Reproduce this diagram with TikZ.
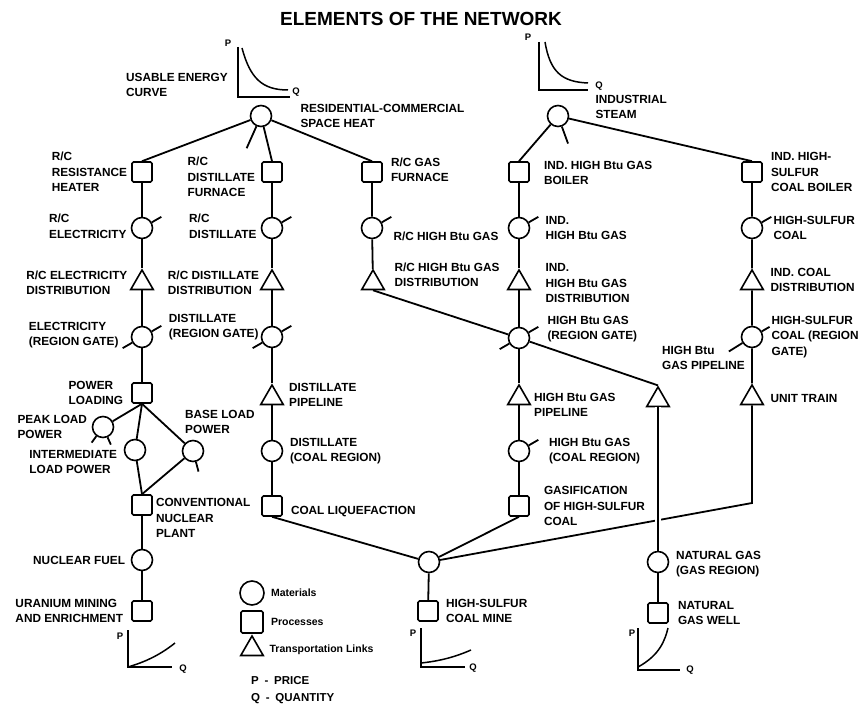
\documentclass[tikz,border=0pt]{standalone}
\usepackage{fontspec}
\setmainfont{Liberation Sans}
\usetikzlibrary{positioning,shapes.geometric}

\begin{document}
\begin{tikzpicture}[x=1pt, y=-1pt,
  mat/.style={draw, circle, line width=1.6pt, minimum size=21pt, inner sep=0pt},
  proc/.style={draw, rounded corners=1.5pt, line width=1.6pt, minimum size=20pt, inner sep=0pt},
  link/.style={draw, regular polygon, regular polygon sides=3, line width=1.6pt,
    minimum size=26pt, inner sep=0pt},
  lbl/.style={align=left, inner sep=0pt, font=\fontsize{11.8}{15.5}\selectfont\bfseries},
  axlbl/.style={inner sep=0pt, font=\fontsize{9.5}{10}\selectfont\bfseries},
  keylbl/.style={inner sep=0pt, font=\fontsize{10.5}{11}\selectfont\bfseries},
  conn/.style={line width=1.8pt},
  pq/.style={line width=1.5pt}]
  \path[fill=white] (0,0) rectangle (859,708);
  \useasboundingbox (0,0) rectangle (859,708);

  \node[inner sep=0pt, font=\fontsize{19}{20}\selectfont\bfseries] (title) at (421,19)
    {ELEMENTS OF THE NETWORK};

  \node[mat] (rsh) at (261,116) {};
  \node[mat] (ist) at (558,116) {};
  \node[proc] (rh) at (142,172) {};
  \node[proc] (rdf) at (272,172) {};
  \node[proc] (rgf) at (372,172) {};
  \node[proc] (ihb) at (519,172) {};
  \node[proc] (ihsb) at (752,172) {};
  \node[mat] (rce) at (142,228) {};
  \node[mat] (rcd) at (272,228) {};
  \node[mat] (rcg) at (372,228) {};
  \node[mat] (ihg) at (519,228) {};
  \node[mat] (hsc) at (752,228) {};
  \node[link] (rced) at (142,283) {};
  \node[link] (rcdd) at (272,283) {};
  \node[link] (rcgd) at (373,283) {};
  \node[link] (ihd) at (519,283) {};
  \node[link] (icd) at (752,283) {};
  \node[mat] (eg) at (142,337) {};
  \node[mat] (dg) at (272,337) {};
  \node[mat] (hg) at (519,338) {};
  \node[mat] (hscg) at (752,337) {};
  \node[proc] (pl) at (142,393) {};
  \node[link] (dp) at (272,398) {};
  \node[link] (hp) at (519,398) {};
  \node[link] (ngp) at (658,400) {};
  \node[link] (ut) at (752,398) {};
  \node[mat] (peak) at (103,427) {};
  \node[mat] (inter) at (135,450) {};
  \node[mat] (base) at (193,451) {};
  \node[mat] (dcr) at (272,451) {};
  \node[mat] (hcr) at (519,451) {};
  \node[proc] (cnp) at (142,505) {};
  \node[proc] (cl) at (272,506) {};
  \node[proc] (gas) at (519,506) {};
  \node[mat] (nf) at (142,560) {};
  \node[mat] (coal) at (429,562) {};
  \node[mat] (ng) at (658,562) {};
  \node[proc] (um) at (142,611) {};
  \node[proc] (hcm) at (428,611) {};
  \node[proc] (ngw) at (658,613) {};
  \coordinate (ubend) at (752,503);

  \node[lbl, anchor=east] (useL) at (228,85) {USABLE ENERGY\\CURVE};
  \node[lbl] (rshL) [right=28pt of rsh] {RESIDENTIAL-COMMERCIAL\\SPACE HEAT};
  \node[lbl] (istL) [right=26pt of ist, yshift=9pt] {INDUSTRIAL\\STEAM};
  \node[lbl] (rhL) [left=4pt of rh] {R/C\\RESISTANCE\\HEATER};
  \node[lbl] (rdfL) [left=6pt of rdf, yshift=-5pt] {R/C\\DISTILLATE\\FURNACE};
  \node[lbl] (rgfL) [right=8pt of rgf, yshift=2pt] {R/C GAS\\FURNACE};
  \node[lbl] (ihbL) [right=14pt of ihb, yshift=-1pt] {IND. HIGH Btu GAS\\BOILER};
  \node[lbl] (ihsbL) [right=8pt of ihsb] {IND. HIGH-\\SULFUR\\COAL BOILER};
  \node[lbl] (rceL) [left=4pt of rce, yshift=1.5pt] {R/C\\ELECTRICITY};
  \node[lbl] (rcdL) [left=4pt of rcd, yshift=1.5pt] {R/C\\DISTILLATE};
  \node[lbl] (rcgL) [right=10pt of rcg, yshift=-8pt] {R/C HIGH Btu GAS};
  \node[lbl] (ihgL) [right=15pt of ihg] {IND.\\HIGH Btu GAS};
  \node[lbl] (hscL) [right=10pt of hsc] {HIGH-SULFUR\\COAL};
  \node[lbl] (rcedL) [left=6pt of rced] {R/C ELECTRICITY\\DISTRIBUTION};
  \node[lbl] (rcddL) [left=4.5pt of rcdd] {R/C DISTILLATE\\DISTRIBUTION};
  \node[lbl] (rcgdL) [right=13pt of rcgd, yshift=8pt] {R/C HIGH Btu GAS\\DISTRIBUTION};
  \node[lbl] (ihdL) [right=18pt of ihd] {IND.\\HIGH Btu GAS\\DISTRIBUTION};
  \node[lbl] (icdL) [right=10pt of icd, yshift=3pt] {IND. COAL\\DISTRIBUTION};
  \node[lbl] (egL) [left=12pt of eg, yshift=2pt] {ELECTRICITY\\(REGION GATE)};
  \node[lbl] (dgL) [left=2pt of dg, yshift=10pt] {DISTILLATE\\(REGION GATE)};
  \node[lbl] (hgL) [right=17pt of hg, yshift=9pt] {HIGH Btu GAS\\(REGION GATE)};
  \node[lbl] (hscgL) [right=8pt of hscg] {HIGH-SULFUR\\COAL (REGION\\GATE)};
  \node[lbl, anchor=east] (hbpL) at ([xshift=-7pt, yshift=-21pt]hscg.center) {HIGH Btu\\GAS PIPELINE};
  \node[lbl] (plL) [left=8pt of pl] {POWER\\LOADING};
  \node[lbl] (peakL) [left=4.5pt of peak] {PEAK LOAD\\POWER};
  \node[lbl] (interL) [left=6.5pt of inter, yshift=-12pt] {INTERMEDIATE\\LOAD POWER};
  \node[lbl, anchor=west] (baseL) at ([xshift=-8pt, yshift=29pt]base.center) {BASE LOAD\\POWER};
  \node[lbl] (dpL) [right=8.5pt of dp, yshift=3pt] {DISTILLATE\\PIPELINE};
  \node[lbl] (hpL) [right=6.5pt of hp, yshift=-7pt] {HIGH Btu GAS\\PIPELINE};
  \node[lbl] (utL) [right=10pt of ut] {UNIT TRAIN};
  \node[lbl] (dcrL) [right=6.5pt of dcr] {DISTILLATE\\(COAL REGION)};
  \node[lbl] (hcrL) [right=18.5pt of hcr] {HIGH Btu GAS\\(COAL REGION)};
  \node[lbl] (cnpL) [right=3pt of cnp, yshift=-13pt] {CONVENTIONAL\\NUCLEAR\\PLANT};
  \node[lbl] (clL) [right=8pt of cl, yshift=-6pt] {COAL LIQUEFACTION};
  \node[lbl] (gasL) [right=14pt of gas] {GASIFICATION\\OF HIGH-SULFUR\\COAL};
  \node[lbl] (nfL) [left=5.5pt of nf] {NUCLEAR FUEL};
  \node[lbl] (ngL) [right=6.5pt of ng, yshift=-2pt] {NATURAL GAS\\(GAS REGION)};
  \node[lbl] (umL) [left=8pt of um] {URANIUM MINING\\AND ENRICHMENT};
  \node[lbl] (hcmL) [right=7pt of hcm] {HIGH-SULFUR\\COAL MINE};
  \node[lbl] (ngwL) [right=9pt of ngw] {NATURAL\\GAS WELL};

  \draw[conn] (rsh) -- (rh.north);
  \draw[conn] (rsh) -- (rdf.north);
  \draw[conn] (rsh) -- (rgf.north);
  \draw[conn] (ist) -- (ihb.north);
  \draw[conn] (ist) -- (ihsb.north);
  \draw[conn] (rh) -- (rce) -- (rced) -- (eg) -- (pl);
  \draw[conn] (pl.south) -- (peak);
  \draw[conn] (pl.south) -- (inter);
  \draw[conn] (pl.south) -- (base);
  \draw[conn] (inter) -- (cnp.north);
  \draw[conn] (base) -- (cnp.north);
  \draw[conn] (cnp) -- (nf) -- (um);
  \draw[conn] (rdf) -- (rcd) -- (rcdd) -- (dg) -- (dp) -- (dcr) -- (cl);
  \draw[conn] (cl.south) -- (coal);
  \draw[conn] (rgf) -- (rcg) -- (rcgd);
  \draw[conn] (rcgd.south) -- (hg);
  \draw[conn] (hg) -- (ngp.north);
  \draw[conn] (ihb) -- (ihg) -- (ihd) -- (hg) -- (hp) -- (hcr) -- (gas);
  \draw[conn] (gas.south) -- (coal);
  \draw[conn] (ihsb) -- (hsc) -- (icd) -- (hscg) -- (ut) -- (ubend) -- (coal);
  \draw[conn, preaction={draw, white, line width=6pt}] (ngp) -- (ng);
  \draw[conn] (ng) -- (ngw);
  \draw[conn] (coal) -- (hcm);

  \draw[conn] (rsh.246) -- ++(246:24pt);
  \draw[conn] (ist.290) -- ++(290:18pt);
  \foreach \n in {rce,rcd,rcg,ihg,hsc,hcr}
    \draw[conn] (\n.30) -- ++(30:11pt);
  \foreach \n in {eg,dg,hg}
    \draw[conn] (\n.30) -- ++(30:11pt) (\n.210) -- ++(210:11pt);
  \draw[conn] (hscg.30) -- ++(30:9pt) (hscg.212) -- ++(212:16pt);
  \draw[conn] (peak.234) -- ++(234:8pt) (peak.294) -- ++(294:8pt);
  \draw[conn] (base.285) -- ++(285:10pt);

  \draw[pq] (238,47) -- (238,97) -- (290,97);
  \draw[pq] (242,48) .. controls (250,78) and (262,90) .. (288,90);
  \node[axlbl] (pA) at (228,43) {P};
  \node[axlbl] (qA) at (296,92) {Q};
  \draw[pq] (539,42) -- (539,90) -- (588,90);
  \draw[pq] (545,42) .. controls (550,72) and (562,82) .. (588,83);
  \node[axlbl] (pB) at (528,37) {P};
  \node[axlbl] (qB) at (599,86) {Q};
  \draw[pq] (128,630) -- (128,667) -- (172,667);
  \draw[pq] (128,667) .. controls (145,662) and (160,655) .. (175,643);
  \node[axlbl] (pC) at (120,636) {P};
  \node[axlbl] (qC) at (183,669) {Q};
  \draw[pq] (421,628) -- (421,667) -- (465,667);
  \draw[pq] (421,663) .. controls (440,661) and (455,657) .. (471,650);
  \node[axlbl] (pD) at (413,633) {P};
  \node[axlbl] (qD) at (473,668) {Q};
  \draw[pq] (638,628) -- (638,670) -- (680,670);
  \draw[pq] (638,667) .. controls (660,655) and (665,640) .. (668,628);
  \node[axlbl] (pE) at (632,633) {P};
  \node[axlbl] (qE) at (690,670) {Q};

  \node[mat, minimum size=24pt] (lm) at (252,593) {};
  \node[proc, minimum size=22pt] (lp) at (252,622) {};
  \node[link, minimum size=26pt] (lt) at (252,649) {};
  \node[keylbl] (lmL) [right=6pt of lm] {Materials};
  \node[keylbl] (lpL) [right=7pt of lp] {Processes};
  \node[keylbl] (ltL) [right=9pt of lt, yshift=-1pt] {Transportation Links};
  \node[lbl, anchor=north west, font=\fontsize{11.5}{17}\selectfont\bfseries] (keyL) at (251,676)
    {P\enskip -\enskip PRICE\\Q\enskip -\enskip QUANTITY};
\end{tikzpicture}
\end{document}
